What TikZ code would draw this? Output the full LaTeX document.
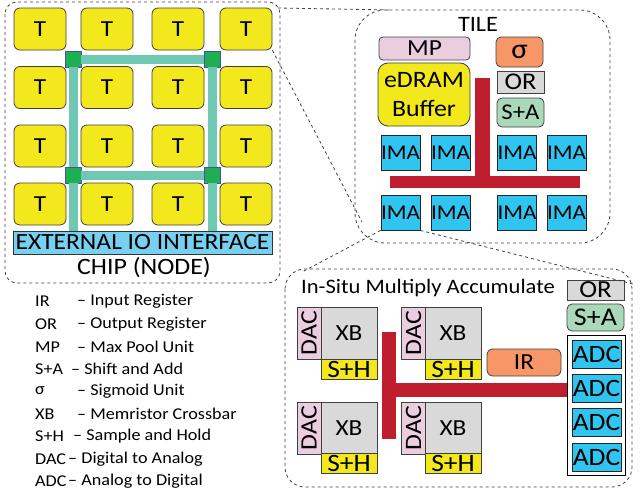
\documentclass[tikz,border=0pt]{standalone}
\usepackage{fontspec}
\setmainfont{Carlito}[FakeStretch=1.1]
\definecolor{tyel}{HTML}{F2E81C}
\definecolor{ioblue}{HTML}{78D0F0}
\definecolor{imablue}{HTML}{30C5F0}
\definecolor{gbar}{HTML}{6EC8B2}
\definecolor{gsq}{HTML}{1EAF50}
\definecolor{rbar}{HTML}{BE1E2D}
\definecolor{mppink}{HTML}{EBCDE0}
\definecolor{sigor}{HTML}{F79767}
\definecolor{orgrey}{HTML}{D9D9D9}
\definecolor{sagreen}{HTML}{A9D9BA}
\definecolor{edge}{HTML}{404040}
\tikzset{
  blk/.style={draw=edge, line width=0.8pt, inner sep=0pt, anchor=center},
  tb/.style={blk, fill=tyel, rounded corners=6pt, minimum width=52pt, minimum height=42pt, font=\fontsize{23}{24}\selectfont},
  imab/.style={blk, draw=black!85, fill=imablue, minimum width=39pt, minimum height=35pt, font=\fontsize{21}{23}\selectfont},
  adcb/.style={blk, draw=black!85, fill=imablue, minimum width=49pt, minimum height=28pt, font=\fontsize{25}{26}\selectfont},
  dacb/.style={blk, fill=mppink, minimum width=24pt, minimum height=52pt},
  xbb/.style={blk, fill=orgrey, minimum width=56pt, minimum height=52pt, font=\fontsize{23}{24}\selectfont},
  shb/.style={blk, fill=tyel, minimum width=56pt, minimum height=20pt, font=\fontsize{25}{26}\selectfont},
  sqg/.style={draw=blue!40!gray, line width=0.5pt, fill=gsq, minimum size=16pt, inner sep=0pt},
  gline/.style={draw=gbar, line width=9pt},
  rb/.style={fill=rbar, draw=none},
  dsh/.style={dashed, draw=black!75, line width=0.8pt},
  lg/.style={anchor=west, inner sep=0pt, font=\fontsize{16.5}{18}\selectfont},
}
\begin{document}
\begin{tikzpicture}[x=1pt,y=-1pt]
\useasboundingbox (0,0) rectangle (640,498);
% ---------- CHIP ----------
\draw[dsh, rounded corners=12pt] (5,2) rectangle (280,283);
\foreach \r/\y in {1/29,2/87.5,3/146,4/204}{
  \foreach \c/\x in {1/40,2/107,3/178,4/246}{
    \node[tb] (t\r\c) at (\x,\y) {T};
  }
}
\node[blk, draw=black!80, fill=ioblue, minimum width=259pt, minimum height=23pt, font=\fontsize{23.2}{24}\selectfont] (io) at (142.5,242.5) {EXTERNAL IO INTERFACE};
\node[font=\fontsize{23.5}{24}\selectfont, inner sep=0pt] (chipl) at (144,268) {CHIP (NODE)};
\node[sqg] (s1) at (73,59) {};
\node[sqg] (s2) at (212,59) {};
\node[sqg] (s3) at (73,175) {};
\node[sqg] (s4) at (212,175) {};
\draw[gline] (s1) -- (s2);
\draw[gline] (s3) -- (s4);
\draw[gline] (s1) -- (s3);
\draw[gline] (s2) -- (s4);
\draw[gline] (s3) -- (s3 |- io.north);
\draw[gline] (s4) -- (s4 |- io.north);
% ---------- TILE ----------
\draw[dsh, rounded corners=30pt] (355,10) rectangle (610,243);
\node[font=\fontsize{22}{24}\selectfont, inner sep=0pt] (tilel) at (478,24) {TILE};
\node[blk, fill=mppink, rounded corners=4pt, minimum width=91pt, minimum height=23pt, font=\fontsize{23}{24}\selectfont] (mp) at (424.5,48.5) {MP};
\node[blk, fill=sigor, rounded corners=5pt, minimum width=47pt, minimum height=30pt, font=\fontsize{28}{28}\selectfont] (sig) at (519.5,52) {σ};
\node[blk, fill=tyel, rounded corners=10pt, minimum width=92pt, minimum height=63pt, align=center, font=\fontsize{23.5}{29}\selectfont] (edram) at (424,94.5) {eDRAM\\Buffer};
\node[blk, fill=orgrey, minimum width=47pt, minimum height=22pt, font=\fontsize{24}{24}\selectfont] (tor) at (520.5,82) {OR};
\node[blk, fill=sagreen, rounded corners=5pt, minimum width=47pt, minimum height=29pt, font=\fontsize{22.5}{24}\selectfont] (tsa) at (520.5,112.5) {S+A};
\fill[rb] (475,78) rectangle (490,176);
\fill[rb] (390,176) rectangle (580,188);
\foreach \r/\y in {1/152.5,2/212.5}{
  \foreach \c/\x in {1/400.5,2/450.5,3/517,4/566.5}{
    \node[imab] (ima\r\c) at (\x,\y) {IMA};
  }
}
% ---------- IMA detail ----------
\draw[dsh, rounded corners=20pt] (285,269) rectangle (632,487);
\node[font=\fontsize{20.5}{22}\selectfont, inner sep=0pt] (imal) at (428,288) {In-Situ Multiply Accumulate};
\node[blk, fill=orgrey, minimum width=57pt, minimum height=20pt, font=\fontsize{24.5}{26}\selectfont] (ior) at (595.5,290) {OR};
\node[blk, fill=sagreen, rounded corners=5pt, minimum width=57pt, minimum height=27pt, font=\fontsize{25.5}{26}\selectfont] (isa) at (595.5,317.5) {S+A};
\node[draw=black, line width=0.8pt, fill=white, minimum width=58pt, minimum height=140pt, inner sep=0pt] (adcc) at (596,405) {};
\foreach \i/\y in {1/354,2/388.5,3/422.5,4/457}{
  \node[adcb] (adc\i) at (596.5,\y) {ADC};
}
\node[blk, fill=sigor, rounded corners=6pt, minimum width=74pt, minimum height=27pt, font=\fontsize{23}{26}\selectfont] (ir) at (524,362.5) {IR};
\fill[rb] (382,332) rectangle (396,439);
\fill[rb] (396,383) rectangle (567,397);
\foreach \u/\dx/\xx/\yy/\sy in {1/309/349/333/369.3, 2/413.5/453/333/369.3, 3/309/349/428/463.6, 4/413.5/453/428/463.6}{
  \node[dacb] (dac\u) at (\dx,\yy) {\rotatebox{90}{\fontsize{23.5}{24}\selectfont DAC}};
  \node[xbb] (xb\u) at (\xx,\yy) {XB};
  \node[shb] (sh\u) at (\xx,\sy) {S+H};
}
% ---------- zoom connectors ----------
\coordinate (c1) at (278,8);
\coordinate (c2) at (392,10);
\coordinate (c3) at (362,222);
\coordinate (c4) at (302,272);
\coordinate (c5) at (633,284);
\draw[dsh] (c1) -- (c2);
\draw[dsh] (t14.south east) -- (c3);
\draw[dsh] (ima21.south west) -- (c4);
\draw[dsh] (ima21.south east) -- (c5);
% ---------- legend ----------
\foreach \a/\dx/\d/\y in {IR/77/Input Register/301, OR/77/Output Register/324, MP/77/Max Pool Unit/347, S+A/71/Shift and Add/369, σ/77/Sigmoid Unit/391, XB/77/Memristor Crossbar/414, S+H/73/Sample and Hold/436, DAC/68/Digital to Analog/459, ADC/68/Analog to Digital/481}{
  \node[lg] at (35,\y) {\a};
  \node[lg] at (\dx,\y) {– \d};
}
\end{tikzpicture}
\end{document}
